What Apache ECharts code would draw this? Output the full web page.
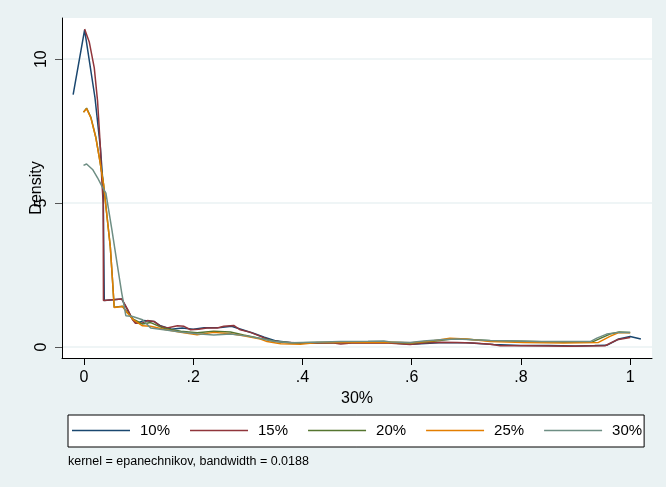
<!DOCTYPE html>
<html>
<head>
<meta charset="utf-8">
<script src="https://cdn.jsdelivr.net/npm/echarts@6/dist/echarts.min.js"></script>
<style>
html,body{margin:0;padding:0;background:#eaf2f3;}
#chart{width:666px;height:487px;}
</style>
</head>
<body>
<div id="chart"></div>
<script>
// ---- data ----
const seriesNames = ['10%', '15%', '20%', '25%', '30%'];
const xTicks = [0, 0.2, 0.4, 0.6, 0.8, 1];
const xTickLabels = ['0', '.2', '.4', '.6', '.8', '1'];
const yTicks = [0, 5, 10];
const yTickLabels = ['0', '5', '10'];

const x10 = [-0.02,0.001,0.02,0.03,0.035,0.037,0.069,0.089,0.097,0.109,0.128,0.14,0.16,0.18,0.2,0.22,0.25,0.27,0.29,0.31,0.33,0.35,0.38,0.42,0.46,0.5,0.55,0.6,0.65,0.7,0.75,0.8,0.85,0.9,0.935,0.957,0.979,1.0,1.0196];
const d10 = [8.77,11.02,8.66,6.9,5.6,1.62,1.67,0.95,0.83,0.92,0.89,0.74,0.62,0.66,0.62,0.67,0.68,0.72,0.6,0.48,0.34,0.22,0.15,0.14,0.15,0.15,0.16,0.1,0.15,0.15,0.09,0.05,0.05,0.04,0.05,0.06,0.28,0.37,0.28];

const x15 = [0.001,0.0095,0.0187,0.0247,0.0296,0.0326,0.035,0.0355,0.069,0.08,0.089,0.094,0.106,0.116,0.128,0.14,0.152,0.171,0.183,0.195,0.21,0.225,0.244,0.256,0.274,0.286,0.305,0.323,0.341,0.366,0.396,0.43,0.457,0.47,0.49,0.52,0.55,0.597,0.622,0.652,0.683,0.713,0.744,0.762,0.805,0.85,0.89,0.954,0.976,1.0];
const d15 = [11.05,10.6,9.7,8.55,7.03,5.76,5.0,1.62,1.67,1.3,0.95,0.83,0.83,0.92,0.89,0.72,0.66,0.74,0.72,0.6,0.62,0.66,0.66,0.72,0.75,0.6,0.51,0.37,0.23,0.17,0.14,0.14,0.14,0.11,0.14,0.14,0.15,0.09,0.14,0.17,0.16,0.14,0.1,0.045,0.045,0.04,0.03,0.045,0.25,0.33];

const x20 = [-0.001,0.0046,0.0125,0.0216,0.029,0.0357,0.04,0.048,0.052,0.0552,0.0704,0.0796,0.09,0.107,0.122,0.146,0.177,0.207,0.2375,0.268,0.292,0.323,0.35,0.38,0.42,0.5,0.55,0.6,0.64,0.67,0.7,0.744,0.8,0.878,0.93,0.963,0.98,1.0];
const d20 = [8.16,8.3,7.98,7.28,6.47,5.66,4.9,3.5,2.35,1.38,1.42,1.19,0.97,0.8,0.85,0.65,0.55,0.5,0.55,0.52,0.42,0.3,0.2,0.14,0.16,0.17,0.18,0.14,0.2,0.27,0.27,0.22,0.2,0.17,0.17,0.45,0.52,0.51];

const x25 = [-0.001,0.0046,0.0125,0.0216,0.029,0.0357,0.04,0.048,0.052,0.0552,0.0704,0.0796,0.09,0.107,0.122,0.146,0.177,0.207,0.2375,0.268,0.292,0.323,0.335,0.36,0.396,0.427,0.5,0.55,0.6,0.64,0.67,0.7,0.744,0.805,0.878,0.942,0.963,0.979,1.0];
const d25 = [8.16,8.28,7.96,7.27,6.46,5.65,4.88,3.49,2.34,1.375,1.41,1.18,0.95,0.74,0.72,0.62,0.51,0.43,0.51,0.46,0.39,0.28,0.19,0.115,0.1,0.16,0.16,0.17,0.15,0.22,0.31,0.28,0.19,0.16,0.14,0.16,0.37,0.5,0.5];

const x30 = [-0.001,0.0046,0.0156,0.0247,0.0326,0.04,0.051,0.0613,0.069,0.0765,0.089,0.107,0.122,0.146,0.177,0.207,0.2375,0.268,0.3,0.323,0.35,0.38,0.42,0.47,0.52,0.549,0.561,0.597,0.622,0.652,0.683,0.713,0.744,0.79,0.835,0.878,0.927,0.939,0.957,0.979,1.0];
const d30 = [6.31,6.36,6.17,5.88,5.59,5.35,4.07,2.8,1.875,1.09,1.06,0.95,0.66,0.6,0.52,0.46,0.42,0.45,0.38,0.3,0.19,0.15,0.17,0.19,0.2,0.21,0.18,0.16,0.21,0.25,0.28,0.25,0.23,0.21,0.19,0.19,0.19,0.31,0.45,0.51,0.51];

const noteText = 'kernel = epanechnikov, bandwidth = 0.0188';
// ---------------------------------------

const xs = [x10, x15, x20, x25, x30];
const ds = [d10, d15, d20, d25, d30];
const colors = ['#1a476f', '#90353b', '#55752f', '#e37e00', '#6e8e84'];

const chart = echarts.init(document.getElementById('chart'), null, {renderer: 'canvas'});
const FONT = 'Liberation Sans, Arial, sans-serif';

const series = seriesNames.map((n, i) => ({
  name: n,
  type: 'line',
  showSymbol: false,
  symbol: 'none',
  smooth: false,
  lineStyle: {width: 1.5, color: colors[i]},
  itemStyle: {color: colors[i]},
  data: xs[i].map((x, j) => [x, ds[i][j]]),
  z: 2 + i
}));

chart.setOption({
  animation: false,
  backgroundColor: '#eaf2f3',
  textStyle: {fontFamily: FONT},
  grid: {left: 62, right: 14, top: 18, bottom: 129, show: true, backgroundColor: '#ffffff', borderWidth: 0},
  title: {
    text: noteText, left: 63, top: 450,
    textStyle: {fontSize: 12.5, fontWeight: 'normal', color: '#000', fontFamily: FONT}
  },
  legend: {
    data: seriesNames,
    left: 68, top: 415,
    orient: 'horizontal',
    itemWidth: 58, itemHeight: 14, itemGap: 20,
    padding: [8, 2, 9, 4],
    backgroundColor: '#ffffff', borderColor: '#000', borderWidth: 1, borderRadius: 0,
    icon: 'path://M0,6.5 L57,6.5 L57,8 L0,8 Z',
    formatter: n => '{t|' + n + '}',
    textStyle: {fontSize: 15, color: '#000', fontFamily: FONT,
      rich: {t: {fontSize: 15, color: '#000', fontFamily: FONT, padding: [0, 0, 0, 5]}}}
  },
  xAxis: {
    type: 'value', min: -0.0404, max: 1.04,
    name: '30%', nameLocation: 'middle', nameGap: 33,
    nameTextStyle: {fontSize: 16, color: '#000', fontFamily: FONT},
    axisLine: {show: true, onZero: false, lineStyle: {color: '#000', width: 1}},
    axisTick: {show: true, length: 7, lineStyle: {color: '#000'}, customValues: xTicks},
    axisLabel: {show: true, fontSize: 16, color: '#000', margin: 12, customValues: xTicks,
      formatter: v => { const k = xTicks.findIndex(t => Math.abs(t - v) < 1e-6); return k >= 0 ? xTickLabels[k] : ''; }},
    splitLine: {show: false}
  },
  yAxis: {
    type: 'value', min: -0.38, max: 11.43,
    name: 'Density', nameLocation: 'middle', nameGap: 17, nameRotate: 90,
    nameMoveOverlap: false,
    nameTextStyle: {fontSize: 16, color: '#000', fontFamily: FONT},
    axisLine: {show: true, onZero: false, lineStyle: {color: '#000', width: 1}},
    axisTick: {show: true, length: 7, lineStyle: {color: '#555'}, customValues: yTicks},
    axisLabel: {show: true, fontSize: 16, color: '#000', margin: 12, rotate: 90, customValues: yTicks,
      formatter: v => { const k = yTicks.findIndex(t => Math.abs(t - v) < 1e-6); return k >= 0 ? yTickLabels[k] : ''; }},
    splitLine: {show: true, lineStyle: {color: '#eaf2f3', width: 1.5}}
  },
  series: series
});
</script>
</body>
</html>
